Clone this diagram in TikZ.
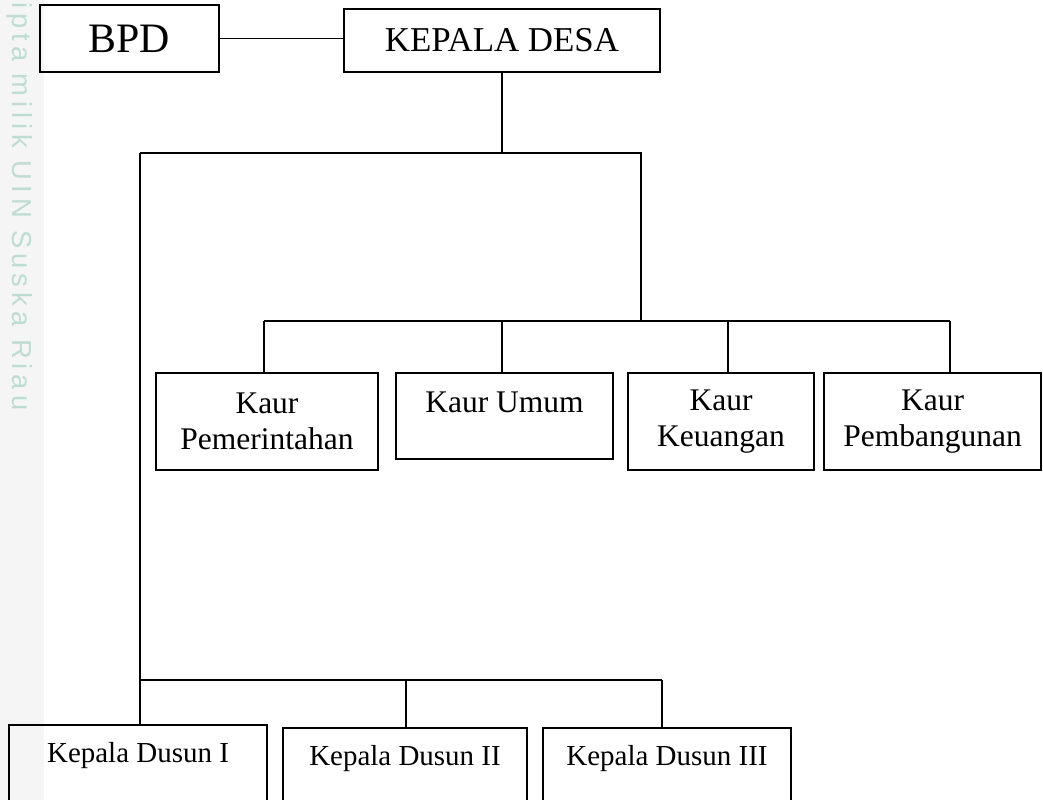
\documentclass[tikz,border=0pt]{standalone}
\usepackage{fontspec}
\setmainfont{Liberation Serif}
\newfontfamily\wmfont[LetterSpace=18]{Liberation Sans}
\definecolor{wmcol}{RGB}{190,221,210}
\definecolor{stripcol}{RGB}{245,245,245}
\tikzset{
	box/.style={draw, line width=1.3pt, inner sep=0pt, align=center},
	kaur/.style={box, anchor=north, minimum height=2.425cm, font=\fontsize{22.4}{25.5}\selectfont},
	dusun/.style={box, anchor=north, text height=0.95cm, text depth=3cm, font=\fontsize{20.6}{24}\selectfont},
	link/.style={line width=1.1pt}
}

\begin{document}
\begin{tikzpicture}[x=0.025cm, y=-0.025cm]
			%%%%% START %%%%%
			
			\clip (0, 0) rectangle (1043, 800);
			\fill[stripcol] (0, 0) rectangle (44, 800);
			\node[rotate=-90, anchor=base west, inner sep=0pt, text=wmcol, font=\wmfont\fontsize{19.5}{22}\selectfont] (wm) at (12, 2) {ipta milik UIN Suska Riau};
			
			\node[box, minimum width=4.475cm, minimum height=1.675cm, font=\fontsize{29.8}{34}\selectfont] (bpd) at (129.5, 38.5) {BPD};
			\node[box, minimum width=7.9cm, minimum height=1.575cm, font=\fontsize{24.8}{30}\selectfont] (kd) at (502, 40.5) {KEPALA DESA};
			
			\node[kaur, minimum width=5.55cm] (k1) at (267, 372) {Kaur\\Pemerintahan};
			\node[kaur, minimum width=5.425cm, minimum height=2.15cm, text height=1cm, text depth=1.15cm] (k2) at (504.5, 372) {Kaur Umum};
			\node[kaur, minimum width=4.65cm] (k3) at (721, 372) {Kaur\\Keuangan};
			\node[kaur, minimum width=5.425cm] (k4) at (932.5, 372) {Kaur\\Pembangunan};
			
			\node[dusun, minimum width=6.45cm] (d1) at (138, 724) {Kepala Dusun I};
			\node[dusun, minimum width=6.1cm] (d2) at (405, 727) {Kepala Dusun II};
			\node[dusun, minimum width=6.2cm] (d3) at (667, 727) {Kepala Dusun III};
			
			\coordinate (b1) at (140, 153);
			\coordinate (b2) at (641, 153);
			\coordinate (b3) at (641, 321);
			\coordinate (b4) at (140, 680);
			\coordinate (t1) at (264, 321);
			\coordinate (t2) at (502, 321);
			\coordinate (t3) at (728, 321);
			\coordinate (t4) at (950, 321);
			\coordinate (s2) at (406, 680);
			\coordinate (s3) at (662, 680);
			
			\draw[link] (bpd.east) -- (bpd.east -| kd.west);
			\draw[link] (kd.south) -- (kd.south |- b1);
			\draw[link] (b1) -- (b2) -- (b3);
			
			\draw[link] (t1) -- (t4);
			\draw[link] (t1) -- (t1 |- k1.north);
			\draw[link] (t2) -- (t2 |- k2.north);
			\draw[link] (t3) -- (t3 |- k3.north);
			\draw[link] (t4) -- (t4 |- k4.north);
			
			\draw[link] (b1) -- (b1 |- d1.north);
			\draw[link] (b4) -- (s3);
			\draw[link] (s2) -- (s2 |- d2.north);
			\draw[link] (s3) -- (s3 |- d3.north);
			
			%%%%% END %%%%%
\end{tikzpicture}
\end{document}
